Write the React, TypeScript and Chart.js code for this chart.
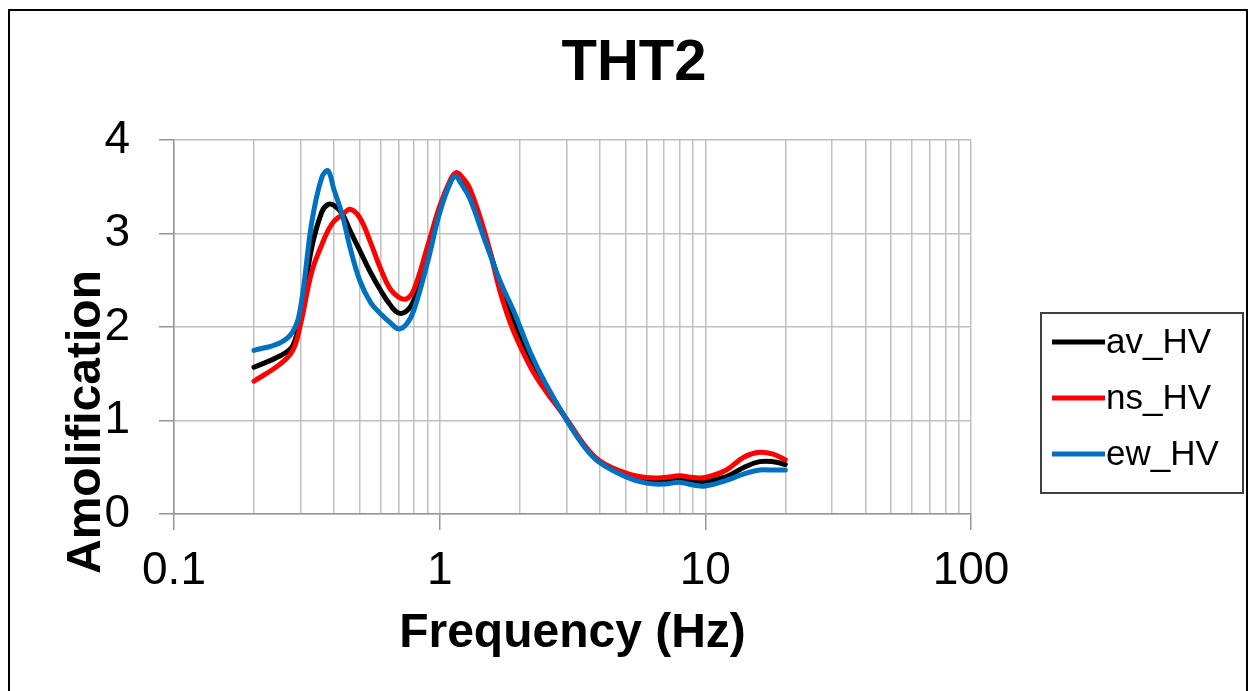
import React, { useEffect, useRef } from 'react';
import { Chart, registerables } from 'chart.js';

Chart.register(...registerables);

const FONT = "'Liberation Sans', Arial, sans-serif";

const TITLE = 'THT2';
const X_TITLE = 'Frequency (Hz)';
const Y_TITLE = 'Amolification';

const SERIES_LABELS = ['av_HV', 'ns_HV', 'ew_HV'];
const SERIES_COLORS = ['#000000', '#ff0000', '#0070c0'];

const FREQ = [0.2, 0.25, 0.28, 0.3, 0.33, 0.36, 0.38, 0.4, 0.43, 0.46, 0.5, 0.55, 0.6, 0.65, 0.7, 0.75, 0.8, 0.9, 1.0, 1.1, 1.15, 1.2, 1.3, 1.5, 1.7, 1.9, 2.2, 2.5, 3.0, 3.5, 4.0, 5, 6, 7, 8, 9, 10, 12, 14, 16, 18, 20];

const AV_HV = [1.57, 1.69, 1.80, 2.15, 2.85, 3.23, 3.31, 3.30, 3.21, 3.03, 2.82, 2.58, 2.39, 2.24, 2.15, 2.17, 2.29, 2.77, 3.25, 3.56, 3.62, 3.58, 3.43, 2.92, 2.43, 2.06, 1.67, 1.37, 1.01, 0.73, 0.56, 0.42, 0.36, 0.36, 0.37, 0.36, 0.35, 0.40, 0.50, 0.56, 0.56, 0.53];
const NS_HV = [1.42, 1.60, 1.75, 2.04, 2.59, 2.88, 3.03, 3.13, 3.20, 3.26, 3.17, 2.90, 2.62, 2.41, 2.32, 2.30, 2.40, 2.86, 3.29, 3.58, 3.65, 3.62, 3.48, 2.95, 2.35, 1.95, 1.57, 1.32, 1.02, 0.74, 0.57, 0.44, 0.39, 0.39, 0.41, 0.39, 0.39, 0.47, 0.61, 0.66, 0.64, 0.58];
const EW_HV = [1.75, 1.83, 1.95, 2.22, 3.12, 3.60, 3.67, 3.47, 3.20, 2.85, 2.50, 2.26, 2.14, 2.05, 1.98, 2.03, 2.18, 2.69, 3.22, 3.55, 3.61, 3.54, 3.37, 2.88, 2.47, 2.17, 1.72, 1.40, 1.01, 0.72, 0.55, 0.40, 0.33, 0.32, 0.34, 0.31, 0.30, 0.36, 0.43, 0.47, 0.47, 0.47];

const X_DECADES = [0.1, 1, 10, 100];
const X_TICK_LABELS = ['0.1', '1', '10', '100'];
const X_MINOR_STEPS = [1, 2, 3, 4, 5, 6, 7, 8, 9];
const Y_MIN = 0;
const Y_MAX = 4;

function isDecade(v: number) {
  return X_DECADES.some((d) => Math.abs(d - v) < 1e-9);
}

const decorPlugin = {
  id: 'decor',
  beforeDraw(chart: any) {
    const ctx = chart.ctx;
    ctx.save();
    ctx.fillStyle = '#ffffff';
    ctx.fillRect(0, 0, chart.width, chart.height);
    ctx.restore();
  },
  afterDraw(chart: any) {
    const ctx = chart.ctx;
    ctx.save();
    // outer frame
    ctx.strokeStyle = '#000000';
    ctx.lineWidth = 2;
    ctx.strokeRect(9, 10, 1238, 720);
    // chart title
    ctx.fillStyle = '#000000';
    ctx.font = `bold 58px ${FONT}`;
    ctx.textAlign = 'center';
    ctx.textBaseline = 'middle';
    ctx.fillText(TITLE, 634, 64);
    // y-axis title
    ctx.save();
    ctx.translate(87, 422);
    ctx.rotate(-Math.PI / 2);
    ctx.font = `bold 48px ${FONT}`;
    ctx.fillText(Y_TITLE, 0, 0);
    ctx.restore();
    // legend
    ctx.strokeStyle = '#404040';
    ctx.lineWidth = 2;
    ctx.strokeRect(1041, 313, 202, 180);
    const rows = [342, 398, 454];
    chart.data.datasets.forEach((ds: any, i: number) => {
      const y = rows[i];
      ctx.strokeStyle = ds.borderColor;
      ctx.lineWidth = 5;
      ctx.lineCap = 'butt';
      ctx.beginPath();
      ctx.moveTo(1052, y);
      ctx.lineTo(1105, y);
      ctx.stroke();
      ctx.fillStyle = '#000000';
      ctx.font = `35px ${FONT}`;
      ctx.textAlign = 'left';
      ctx.textBaseline = 'middle';
      ctx.fillText(ds.label, 1106, y + 1);
    });
    ctx.restore();
  },
};

export default function App() {
  const canvasRef = useRef<HTMLCanvasElement | null>(null);

  useEffect(() => {
    if (!canvasRef.current) return;
    const series = [AV_HV, NS_HV, EW_HV];
    const orders = [2, 1, 0];
    const chart = new Chart(canvasRef.current, {
      type: 'line',
      data: {
        datasets: series.map((vals, i) => ({
          label: SERIES_LABELS[i],
          data: FREQ.map((f, j) => ({ x: f, y: vals[j] })),
          borderColor: SERIES_COLORS[i],
          backgroundColor: SERIES_COLORS[i],
          borderWidth: 5,
          pointRadius: 0,
          pointHoverRadius: 0,
          fill: false,
          tension: 0.4,
          borderJoinStyle: 'round',
          borderCapStyle: 'round',
          order: orders[i],
        })),
      },
      options: {
        responsive: false,
        animation: false,
        events: [],
        layout: { padding: { left: 0, top: 140, right: 279, bottom: 0 } },
        plugins: {
          legend: { display: false },
          title: { display: false },
          tooltip: { enabled: false },
        },
        scales: {
          x: {
            type: 'logarithmic',
            min: 0.1,
            max: 100,
            afterBuildTicks: (scale: any) => {
              const ticks: any[] = [];
              X_DECADES.slice(0, 3).forEach((d) => {
                X_MINOR_STEPS.forEach((m) => ticks.push({ value: Math.round(d * m * 1000) / 1000 }));
              });
              ticks.push({ value: 100 });
              scale.ticks = ticks;
            },
            afterFit: (scale: any) => {
              scale.height = 177;
            },
            grid: {
              color: '#c0c0c0',
              lineWidth: 1.5,
              tickLength: 16,
              tickWidth: 1.5,
              tickColor: (ctx: any) => (ctx.tick && isDecade(ctx.tick.value) ? '#969696' : 'rgba(0,0,0,0)'),
            },
            border: { color: '#969696', width: 1.5 },
            ticks: {
              autoSkip: false,
              maxRotation: 0,
              minRotation: 0,
              padding: 14,
              color: '#000000',
              font: { family: FONT, size: 46 },
              callback: (value: any) => {
                const idx = X_DECADES.findIndex((d) => Math.abs(d - Number(value)) < 1e-9);
                return idx >= 0 ? X_TICK_LABELS[idx] : '';
              },
            },
            title: {
              display: true,
              text: X_TITLE,
              color: '#000000',
              font: { family: FONT, size: 48, weight: 'bold' },
              padding: { top: 0, bottom: 28 },
            },
          },
          y: {
            type: 'linear',
            min: Y_MIN,
            max: Y_MAX,
            afterFit: (scale: any) => {
              scale.width = 174;
            },
            grid: {
              color: '#c0c0c0',
              lineWidth: 1.5,
              tickLength: 15,
              tickWidth: 1.5,
              tickColor: '#969696',
            },
            border: { color: '#969696', width: 1.5 },
            ticks: {
              stepSize: 1,
              padding: 29,
              color: '#000000',
              font: { family: FONT, size: 46 },
            },
            title: { display: false },
          },
        },
      },
      plugins: [decorPlugin],
    } as any);
    return () => chart.destroy();
  }, []);

  return (
    <div style={{ position: 'fixed', left: 0, top: 0, width: 1250, height: 691, background: '#ffffff' }}>
      <canvas ref={canvasRef} width={1250} height={691} style={{ display: 'block' }} />
    </div>
  );
}
